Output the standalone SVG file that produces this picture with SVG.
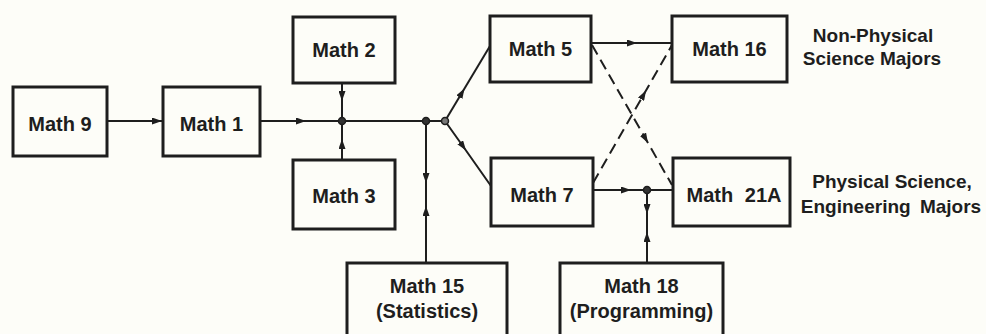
<svg xmlns="http://www.w3.org/2000/svg" width="986" height="334" viewBox="0 0 986 334">
  <defs>
    <marker id="arr" viewBox="0 0 10 7" refX="10" refY="3.5" markerWidth="10" markerHeight="7" markerUnits="userSpaceOnUse" orient="auto">
      <path d="M0,0 L10,3.5 L0,7 z" fill="#1e1e1e"/>
    </marker>
    <style>
      .box { fill: #fdfdf8; stroke: #1e1e1e; stroke-width: 3; }
      .t { font-family: "Liberation Sans", Arial, sans-serif; font-weight: bold; font-size: 20px; fill: #1e1e1e; text-anchor: middle; }
      .lab { font-family: "Liberation Sans", Arial, sans-serif; font-weight: bold; font-size: 19px; fill: #1e1e1e; text-anchor: middle; }
      .ln { fill: none; stroke: #1e1e1e; stroke-width: 2; }
      .mid { marker-mid: url(#arr); }
      .dash { stroke-dasharray: 11 6; }
      .dot { fill: #333; stroke: #1e1e1e; stroke-width: 1.5; }
    </style>
  </defs>
  <rect x="0" y="0" width="986" height="334" fill="#fdfdf8"/>

  <g id="connectors">
    <path class="ln" d="M107,121 L162,121" marker-end="url(#arr)"/>
    <path class="ln mid" d="M260,121 L306,121 L342,121"/>
    <path class="ln mid" d="M342,83 L342,101 L342,121"/>
    <path class="ln mid" d="M342,160 L342,139 L342,121"/>
    <path class="ln" d="M342,121 L445,121"/>
    <path class="ln mid" d="M426,121 L426,183 L426,263"/>
    <path class="ln mid" d="M426,263 L426,206 L426,121"/>
    <path class="ln mid" d="M445,121 L464.5,88.5 L490,46"/>
    <path class="ln mid" d="M445,121 L466,150.5 L491,186"/>
    <path class="ln mid" d="M591,43 L637,43 L672,43"/>
    <path class="ln mid dash" d="M592,45 L648,143 L672,185"/>
    <path class="ln mid dash" d="M593,183 L646,90.5 L672,45"/>
    <path class="ln mid" d="M593,190 L631,190 L647,190"/>
    <path class="ln" d="M647,190 L673,190"/>
    <path class="ln mid" d="M647,190 L647,214 L647,263"/>
    <path class="ln mid" d="M647,263 L647,232 L647,190"/>
    <circle class="dot" cx="342" cy="121" r="3.5"/>
    <circle class="dot" cx="426" cy="121" r="3.5"/>
    <circle cx="445" cy="121" r="3.5" fill="#777" stroke="#1e1e1e" stroke-width="1.5"/>
    <circle class="dot" cx="647" cy="190" r="3.5"/>
  </g>

  <g id="math9">
    <rect class="box" x="13" y="87" width="94" height="69"/>
    <text class="t" x="60" y="131">Math 9</text>
  </g>
  <g id="math1">
    <rect class="box" x="163" y="87" width="97" height="69"/>
    <text class="t" x="211.5" y="131">Math 1</text>
  </g>
  <g id="math2">
    <rect class="box" x="293" y="17" width="102" height="66"/>
    <text class="t" x="344" y="57">Math 2</text>
  </g>
  <g id="math3">
    <rect class="box" x="293" y="160" width="102" height="69"/>
    <text class="t" x="344" y="203">Math 3</text>
  </g>
  <g id="math5">
    <rect class="box" x="490" y="16" width="101" height="66"/>
    <text class="t" x="540.5" y="56">Math 5</text>
  </g>
  <g id="math7">
    <rect class="box" x="491" y="158" width="102" height="68"/>
    <text class="t" x="542" y="202">Math 7</text>
  </g>
  <g id="math16">
    <rect class="box" x="672" y="16" width="115" height="66"/>
    <text class="t" x="729.5" y="56">Math 16</text>
  </g>
  <g id="math21a">
    <rect class="box" x="673" y="158" width="117" height="68"/>
    <text class="t" x="734" y="202" word-spacing="6">Math 21A</text>
  </g>
  <g id="math15">
    <rect class="box" x="347" y="263" width="160" height="80"/>
    <text class="t" x="427" y="293">Math 15</text>
    <text class="t" x="427" y="318">(Statistics)</text>
  </g>
  <g id="math18">
    <rect class="box" x="560" y="263" width="163" height="80"/>
    <text class="t" x="641.5" y="293">Math 18</text>
    <text class="t" x="641.5" y="318">(Programming)</text>
  </g>

  <g id="labels">
    <text class="lab" x="873" y="42">Non-Physical</text>
    <text class="lab" x="872" y="65">Science Majors</text>
    <text class="lab" x="892" y="188">Physical Science,</text>
    <text class="lab" x="891" y="213" word-spacing="4">Engineering Majors</text>
  </g>
</svg>
